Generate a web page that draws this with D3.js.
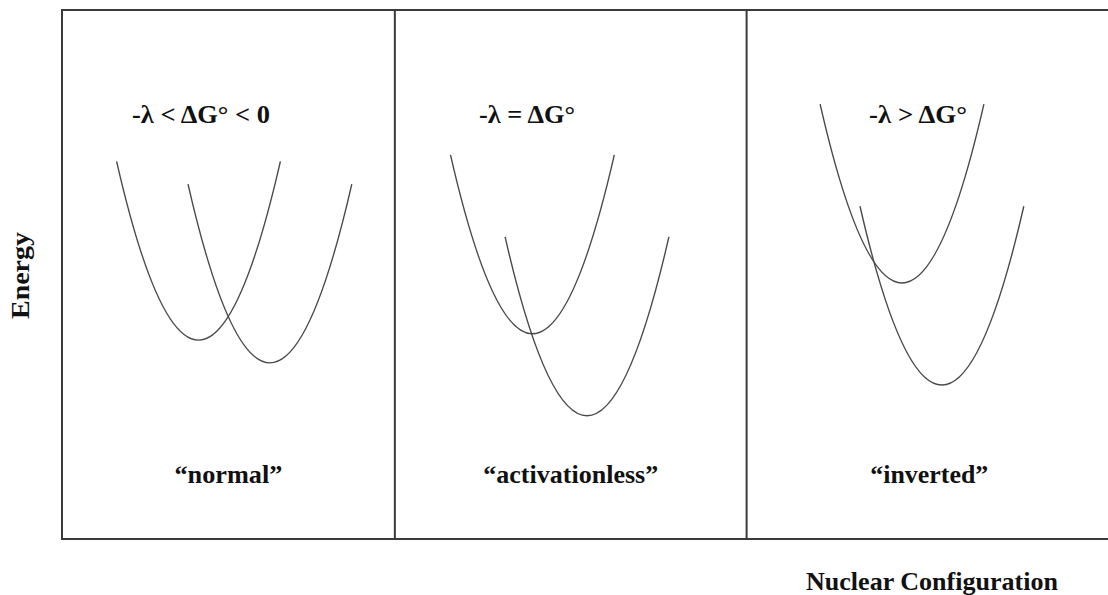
<!DOCTYPE html>
<html>
<head>
<meta charset="utf-8">
<script src="https://cdn.jsdelivr.net/npm/d3@7"></script>
<style>
  html, body { margin: 0; padding: 0; background: #fff; }
  svg { display: block; }
  text { font-family: "Liberation Serif", "Times New Roman", serif; font-weight: bold; fill: #111; }
</style>
</head>
<body>
<svg id="chart" width="1108" height="595"></svg>
<script>
// regimes of the Marcus picture, left to right
const regimes = ["\u201cnormal\u201d", "\u201cactivationless\u201d", "\u201cinverted\u201d"];
const conditions = ["-\u03bb < \u0394G\u00b0 < 0", "-\u03bb = \u0394G\u00b0", "-\u03bb > \u0394G\u00b0"];

// panel borders along the nuclear coordinate
const panelEdges = [0, 31.7, 65.2, 100];

// bottom of each well (position, energy)
const reactantMinX = [13.0, 44.8, 80.0];
const reactantMinE = [37.6, 38.8, 48.4];
const productMinX = [19.8, 50.0, 83.8];
const productMinE = [33.3, 23.3, 29.1];

// all wells have the same shape
const wellHalfWidth = 7.8;
const wellRise = 33.8;

const box = { left: 62, right: 1112, top: 10, bottom: 539 };

const svg = d3.select("#chart");

const x = d3.scaleLinear().domain([0, 100]).range([box.left, box.right]);
const y = d3.scaleLinear().domain([0, 100]).range([box.bottom, box.top]);

// frame + dividers
svg.append("rect")
  .attr("x", x(0))
  .attr("y", y(100))
  .attr("width", x(100) - x(0))
  .attr("height", y(0) - y(100))
  .style("fill", "none")
  .style("stroke", "#3a3a3a")
  .style("stroke-width", 2);

svg.selectAll(".divider")
  .data(panelEdges.slice(1, -1))
  .enter()
  .append("line")
  .attr("class", "divider")
  .attr("x1", (d) => x(d))
  .attr("x2", (d) => x(d))
  .attr("y1", y(100))
  .attr("y2", y(0))
  .style("stroke", "#3a3a3a")
  .style("stroke-width", 2);

// a harmonic well is one quadratic bezier: ends at the rim, control point below the minimum
const wellPath = (mx, me) => {
  const p = d3.path();
  p.moveTo(x(mx - wellHalfWidth), y(me + wellRise));
  p.quadraticCurveTo(x(mx), y(me - wellRise), x(mx + wellHalfWidth), y(me + wellRise));
  return p.toString();
};

const wells = [];
regimes.forEach((r, i) => {
  wells.push({ mx: reactantMinX[i], me: reactantMinE[i] });
  wells.push({ mx: productMinX[i], me: productMinE[i] });
});

svg.selectAll(".well")
  .data(wells)
  .enter()
  .append("path")
  .attr("class", "well")
  .attr("d", (d) => wellPath(d.mx, d.me))
  .style("fill", "none")
  .style("stroke", "#4a4a4a")
  .style("stroke-width", 1.4);

// labels
const titleLayout = [
  { x: 132, len: 138 },
  { x: 479, len: 96 },
  { x: 869, len: 98 },
];
svg.selectAll(".cond")
  .data(conditions)
  .enter()
  .append("text")
  .attr("class", "cond")
  .attr("x", (d, i) => titleLayout[i].x)
  .attr("y", 123)
  .attr("textLength", (d, i) => titleLayout[i].len)
  .attr("lengthAdjust", "spacingAndGlyphs")
  .style("font-size", "25px")
  .text((d) => d);

const regimeLen = [108, 175, 118];
svg.selectAll(".regime")
  .data(regimes)
  .enter()
  .append("text")
  .attr("class", "regime")
  .attr("x", (d, i) => x((panelEdges[i] + panelEdges[i + 1]) / 2) - regimeLen[i] / 2)
  .attr("y", 483)
  .attr("textLength", (d, i) => regimeLen[i])
  .attr("lengthAdjust", "spacingAndGlyphs")
  .style("font-size", "25px")
  .text((d) => d);

svg.append("text")
  .attr("x", 806)
  .attr("y", 590)
  .attr("textLength", 252)
  .attr("lengthAdjust", "spacingAndGlyphs")
  .style("font-size", "25px")
  .text("Nuclear Configuration");

svg.append("text")
  .attr("transform", "translate(29,276) rotate(-90)")
  .attr("x", -43)
  .attr("y", 0)
  .attr("textLength", 87)
  .attr("lengthAdjust", "spacingAndGlyphs")
  .style("font-size", "26px")
  .text("Energy");
</script>
</body>
</html>
